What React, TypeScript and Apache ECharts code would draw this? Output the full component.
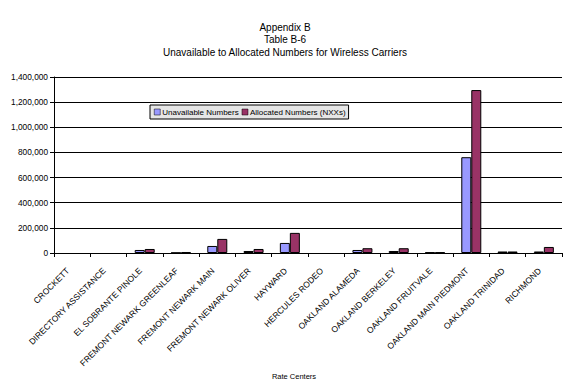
import React, { useEffect, useRef } from "react";
import * as echarts from "echarts";

const titleLines = ["Appendix B", "Table B-6", "Unavailable to Allocated Numbers for Wireless Carriers"];
const categories = [
  "CROCKETT",
  "DIRECTORY ASSISTANCE",
  "EL SOBRANTE PINOLE",
  "FREMONT NEWARK GREENLEAF",
  "FREMONT NEWARK MAIN",
  "FREMONT NEWARK OLIVER",
  "HAYWARD",
  "HERCULES RODEO",
  "OAKLAND ALAMEDA",
  "OAKLAND BERKELEY",
  "OAKLAND FRUITVALE",
  "OAKLAND MAIN PIEDMONT",
  "OAKLAND TRINIDAD",
  "RICHMOND",
];
const unavailable = [0, 0, 24000, 2000, 56000, 16000, 80000, 0, 24000, 16000, 5000, 762000, 12000, 12000];
const allocated = [0, 0, 32000, 8000, 112000, 32000, 160000, 0, 38000, 38000, 5000, 1296000, 12000, 48000];
const seriesNames = ["Unavailable Numbers", "Allocated Numbers (NXXs)"];
const xAxisName = "Rate Centers";

const FONT = "Liberation Sans";

const nz = (arr: number[]) => arr.map((v) => (v === 0 ? null : v));

export default function App() {
  const ref = useRef<HTMLDivElement>(null);
  useEffect(() => {
    if (!ref.current) return;
    const chart = echarts.init(ref.current, undefined, { renderer: "svg" });
    chart.setOption({
      animation: false,
      backgroundColor: "#ffffff",
      title: {
        text: titleLines.join("\n"),
        left: "center",
        top: 16,
        textStyle: { fontFamily: FONT, fontSize: 10, fontWeight: "normal", color: "#000", lineHeight: 12.5 },
      },
      legend: {
        left: 150,
        top: 105,
        orient: "horizontal",
        backgroundColor: "#e6e6e6",
        borderColor: "#000",
        borderWidth: 1,
        borderRadius: 0,
        padding: [3, 3, 3, 4],
        itemWidth: 6,
        itemHeight: 6,
        itemGap: 3,
        icon: "rect",
        itemStyle: { borderColor: "#000", borderWidth: 0.5 },
        textStyle: { fontFamily: FONT, fontSize: 8, color: "#000", padding: [0, 0, 0, -3] },
        data: seriesNames,
      },
      grid: { left: 54, right: 8, top: 77, bottom: 137, containLabel: false },
      xAxis: {
        type: "category",
        data: categories,
        name: xAxisName,
        nameLocation: "middle",
        nameGap: 119,
        nameTextStyle: { fontFamily: FONT, fontSize: 7.5, color: "#000", padding: [0, 28, 0, 0] },
        axisLine: { lineStyle: { color: "#000", width: 1 } },
        axisTick: { show: true, length: 4, lineStyle: { color: "#000" }, alignWithLabel: false },
        axisLabel: {
          rotate: 45,
          interval: 0,
          fontFamily: FONT,
          fontSize: 8.5,
          color: "#000000",
          margin: 12,
          padding: [0, 6, 0, 0],
        },
      },
      yAxis: {
        type: "value",
        min: 0,
        max: 1400000,
        interval: 200000,
        axisLine: { show: true, lineStyle: { color: "#000", width: 1 } },
        axisTick: { show: true, length: 4, lineStyle: { color: "#000" } },
        splitLine: { show: true, lineStyle: { color: "#000", width: 1 } },
        axisLabel: {
          fontFamily: FONT,
          fontSize: 8.3,
          color: "#000",
          margin: 6,
          formatter: (v: number) => v.toLocaleString("en-US"),
        },
      },
      series: [
        {
          name: seriesNames[0],
          type: "bar",
          data: nz(unavailable),
          barWidth: 10,
          barGap: "0%",
          itemStyle: { color: "#9999FF", borderColor: "#000", borderWidth: 1 },
        },
        {
          name: seriesNames[1],
          type: "bar",
          data: nz(allocated),
          barWidth: 10,
          barGap: "0%",
          itemStyle: { color: "#993366", borderColor: "#000", borderWidth: 1 },
        },
      ],
    });
    return () => chart.dispose();
  }, []);
  return <div ref={ref} style={{ width: 570, height: 390, position: "absolute", left: 0, top: 0 }} />;
}
